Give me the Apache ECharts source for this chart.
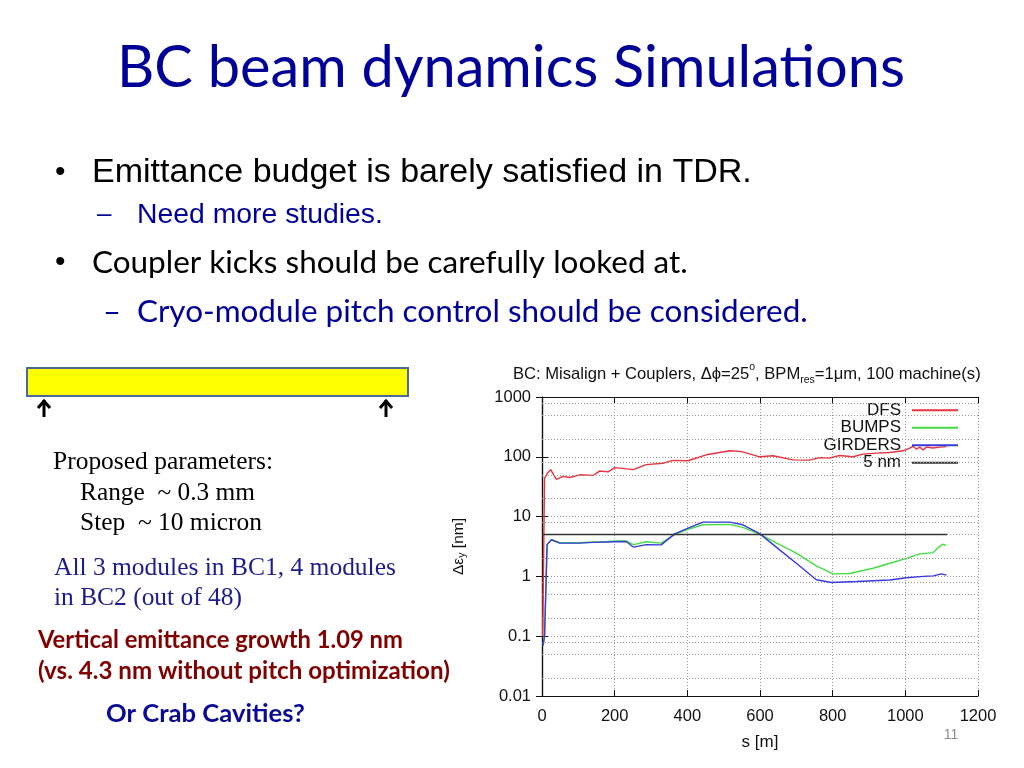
<!DOCTYPE html>
<html>
<head>
<meta charset="utf-8">
<script src="https://cdn.jsdelivr.net/npm/echarts@6/dist/echarts.min.js"></script>
<style>
html,body{margin:0;padding:0;background:#fff;}
#c{width:1024px;height:768px;}
</style>
</head>
<body>
<div id="c"></div>
<script>
// ---- data ----
const dfsS = [2, 7, 14, 24, 32, 40, 58, 76, 104, 141, 159, 182, 200, 251, 287, 333, 361, 402, 452, 517, 550, 599, 636, 691, 737, 764, 791, 819, 856, 884, 920, 957, 994, 1012, 1021, 1030, 1040, 1049, 1058, 1076, 1095, 1113];
const dfsV = [0.1, 44, 52, 61, 50, 42, 47, 45, 50, 49, 58, 56, 66, 61, 74, 78, 87, 86, 108, 126, 122, 100, 104, 89, 88, 97, 95, 105, 100, 111, 115, 118, 126, 140, 150, 135, 145, 130, 145, 140, 145, 148];
const bumpsS = [3, 7, 14, 26, 49, 104, 141, 177, 200, 232, 252, 287, 328, 365, 402, 443, 517, 553, 599, 654, 700, 755, 801, 847, 911, 957, 1003, 1040, 1077, 1094, 1102, 1106, 1113];
const bumpsV = [0.07, 0.1, 3.4, 4.1, 3.65, 3.65, 3.75, 3.8, 3.9, 3.9, 3.4, 3.8, 3.6, 5.0, 6.1, 7.3, 7.4, 6.6, 5.1, 3.4, 2.45, 1.5, 1.1, 1.12, 1.37, 1.66, 2.0, 2.38, 2.5, 3.15, 3.45, 3.2, 3.3];
const girdersS = [3, 7, 14, 26, 49, 104, 141, 177, 232, 252, 287, 328, 365, 402, 443, 517, 553, 599, 654, 700, 755, 797, 866, 957, 1003, 1050, 1077, 1099, 1113];
const girdersV = [0.07, 0.1, 3.4, 4.1, 3.6, 3.6, 3.7, 3.75, 3.83, 3.08, 3.4, 3.37, 5.15, 6.4, 8.07, 8.07, 7.3, 5.2, 2.78, 1.66, 0.88, 0.79, 0.82, 0.87, 0.95, 1.0, 1.02, 1.1, 1.05];
const fiveS = [0, 1115];
const fiveV = [5, 5];
const minorGrid = [0.02, 0.05, 0.08, 0.2, 0.5, 0.8, 2, 5, 8, 20, 50, 80, 200, 500, 800];
const seriesNames = ['DFS', 'BUMPS', 'GIRDERS', '5 nm'];
const seriesColors = ['#e8343f', '#44dd44', '#3a3ad8', '#333333'];

const zip = (a, b) => a.map((x, i) => [x, b[i]]);
const seriesData = [zip(dfsS, dfsV), zip(bumpsS, bumpsV), zip(girdersS, girdersV), zip(fiveS, fiveV)];

const chart = echarts.init(document.getElementById('c'), null, {renderer: 'canvas', width: 1024, height: 768});

const SANS = '"Liberation Sans", Arial, sans-serif';
const CAL = 'Lato, "Open Sans", sans-serif';
const SERIF = '"Liberation Serif", "Times New Roman", serif';

const mctx = document.createElement('canvas').getContext('2d');
function fitSize(text, family, weight, width) {
  mctx.font = (weight || 'normal') + ' 100px ' + family;
  return 100 * width / mctx.measureText(text).width;
}
function txt(text, x, y, size, family, color, weight, align) {
  return {type: 'text', x: x, y: y, silent: true,
    style: {text: text, fontSize: size, fontFamily: family, fill: color,
      fontWeight: weight || 'normal', align: align || 'left', verticalAlign: 'middle'}};
}
// text fitted between a left edge and a right edge
function ftxt(text, x, x2, y, family, color, weight) {
  return txt(text, x, y, fitSize(text, family, weight, x2 - x), family, color, weight);
}

const legendRows = [411.7, 429.3, 446.7, 464.3];
const legends = seriesNames.map((n, i) => ({
  data: [n], orient: 'horizontal', align: 'right', right: 66, top: legendRows[i] - 10,
  padding: 0, itemWidth: 46, itemHeight: 2, selectedMode: false,
  icon: 'rect',
  textStyle: {fontSize: 17, fontFamily: SANS, color: '#111', padding: [0, 6, 0, 0]}
}));

const tickStyle = {show: true, inside: true, length: 6, lineStyle: {color: '#111', width: 1}};
const axLine = {show: true, lineStyle: {color: '#111', width: 1.2}};
const dotted = {color: '#999', width: 1, type: [1, 2]};

const series = seriesNames.map((n, i) => ({
  name: n, type: 'line', data: seriesData[i], symbol: 'none', showSymbol: false,
  lineStyle: {color: seriesColors[i], width: i === 3 ? 1.5 : 1.4},
  itemStyle: {color: seriesColors[i]}, z: 3 + i, silent: true, animation: false
}));
series.unshift({
  name: 'minor', type: 'line', data: [], silent: true, animation: false,
  markLine: {silent: true, symbol: 'none', animation: false, label: {show: false},
    lineStyle: dotted, data: minorGrid.map(v => ({yAxis: v}))}
});

const option = {
  backgroundColor: '#ffffff',
  animation: false,
  title: {
    text: 'BC: Misalign + Couplers, \u0394\u03d5=25{sup|o}, BPM{sub|res}=1\u03bcm, 100 machine(s)',
    left: 513, top: 362, padding: 0,
    textStyle: {fontSize: 16.6, fontFamily: SANS, fontWeight: 'normal', color: '#111', lineHeight: 24,
      rich: {
        sup: {fontSize: 10.5, fontFamily: SANS, color: '#111', verticalAlign: 'top', lineHeight: 24, padding: [0, 0, 10, 0]},
        sub: {fontSize: 10.5, fontFamily: SANS, color: '#111', verticalAlign: 'bottom', lineHeight: 24, padding: [10, 0, 0, 0]}
      }}
  },
  legend: legends,
  grid: {left: 542, right: 46, top: 397, bottom: 72, show: false},
  xAxis: [
    {type: 'value', min: 0, max: 1200, interval: 200, position: 'bottom',
      name: 's [m]', nameLocation: 'middle', nameGap: 38,
      nameTextStyle: {fontSize: 17, fontFamily: SANS, color: '#111'},
      axisLine: axLine, axisTick: tickStyle,
      axisLabel: {fontSize: 16.5, fontFamily: SANS, color: '#111', margin: 12, formatter: v => String(v)},
      splitLine: {show: true, lineStyle: dotted}},
    {type: 'value', min: 0, max: 1200, interval: 200, position: 'top',
      axisLine: axLine, axisTick: tickStyle, axisLabel: {show: false}, splitLine: {show: false}}
  ],
  yAxis: [
    {type: 'log', logBase: 10, min: 0.01, max: 1000, position: 'left',
      name: '\u0394\u03b5{sub|y} [nm]', nameLocation: 'middle', nameGap: 74, nameRotate: 90,
      nameTextStyle: {fontSize: 15.5, fontFamily: SANS, color: '#111',
        rich: {sub: {fontSize: 10.5, fontFamily: SANS, color: '#111', verticalAlign: 'bottom', padding: [8, 0, 0, 0]}}},
      axisLine: axLine, axisTick: tickStyle,
      axisLabel: {fontSize: 16.5, fontFamily: SANS, color: '#111', margin: 11,
        formatter: v => String(+v.toPrecision(3))},
      splitLine: {show: true, lineStyle: dotted}},
    {type: 'log', logBase: 10, min: 0.01, max: 1000, position: 'right',
      axisLine: axLine, axisTick: tickStyle, axisLabel: {show: false}, splitLine: {show: false}}
  ],
  series: series,
  graphic: [
    ftxt('BC beam dynamics Simulations', 117, 905, 68, CAL, '#000099'),
    txt('\u2022', 55, 173, 30, SANS, '#000'),
    ftxt('Emittance budget is barely satisfied in TDR.', 92, 752, 173, SANS, '#000'),
    txt('\u2013', 97, 215, 26, SANS, '#000099'),
    ftxt('Need more studies.', 137, 383, 215, SANS, '#000099'),
    txt('\u2022', 55, 263, 30, SANS, '#000'),
    ftxt('Coupler kicks should be carefully looked at.', 92, 688, 263, CAL, '#000'),
    txt('\u2013', 103, 312, 31, CAL, '#000099'),
    ftxt('Cryo-module pitch control should be considered.', 137, 808, 312, CAL, '#000099'),
    {type: 'rect', silent: true, shape: {x: 27, y: 368, width: 381, height: 28},
      style: {fill: '#ffff00', stroke: '#4a6a96', lineWidth: 2}},
    {type: 'polyline', silent: true, shape: {points: [[44, 417], [44, 400]]}, style: {stroke: '#000', lineWidth: 3, fill: null}},
    {type: 'polyline', silent: true, shape: {points: [[38, 408], [44, 401], [50, 408]]}, style: {stroke: '#000', lineWidth: 3, fill: null}},
    {type: 'polyline', silent: true, shape: {points: [[386, 417], [386, 400]]}, style: {stroke: '#000', lineWidth: 3, fill: null}},
    {type: 'polyline', silent: true, shape: {points: [[380, 408], [386, 401], [392, 408]]}, style: {stroke: '#000', lineWidth: 3, fill: null}},
    ftxt('Proposed parameters:', 53, 273, 462, SERIF, '#000'),
    ftxt('Range  ~ 0.3 mm', 80, 255, 493, SERIF, '#000'),
    ftxt('Step  ~ 10 micron', 80, 262, 523, SERIF, '#000'),
    ftxt('All 3 modules in BC1, 4 modules', 54, 396, 568, SERIF, '#1c1c8c'),
    ftxt('in BC2 (out of 48)', 54, 242, 598, SERIF, '#1c1c8c'),
    ftxt('Vertical emittance growth 1.09 nm', 38, 403, 640, CAL, '#800000', 'bold'),
    ftxt('(vs. 4.3 nm without pitch optimization)', 38, 450, 671, CAL, '#800000', 'bold'),
    ftxt('Or Crab Cavities?', 106, 305, 714, CAL, '#0a0a96', 'bold'),
    txt('11', 951, 735, 14, SANS, '#8c8c8c', 'normal', 'center')
  ]
};
chart.setOption(option);
</script>
</body>
</html>
